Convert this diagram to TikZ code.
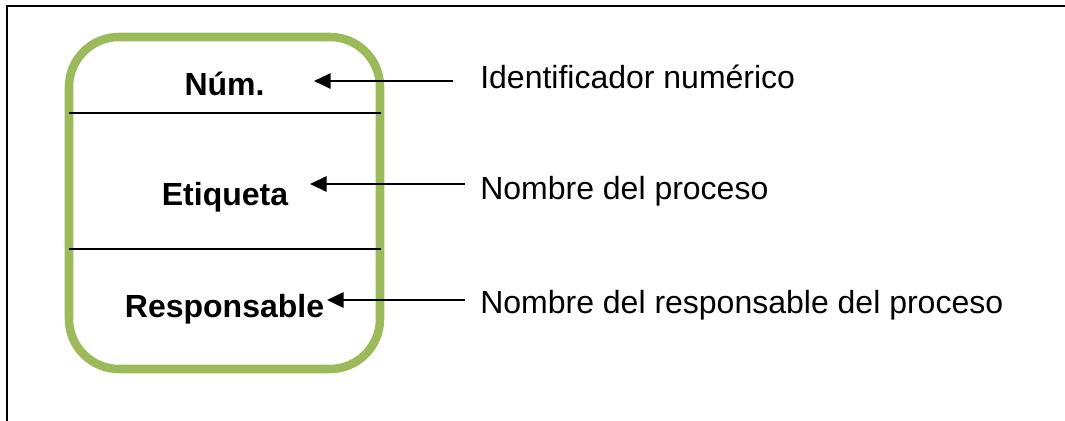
\documentclass[tikz,border=0pt]{standalone}
\usepackage{fontspec}
\setmainfont{Liberation Sans}
\usetikzlibrary{arrows.meta}
\definecolor{boxgreen}{HTML}{9BBB59}
\begin{document}
\begin{tikzpicture}[x=0.75pt,y=-0.75pt,
  frameline/.style={line width=1.6pt,black},
  procbox/.style={draw=boxgreen,line width=6.4pt,rounded corners=37.5pt,
    minimum width=311*0.75pt,minimum height=332*0.75pt,inner sep=0pt},
  divider/.style={line width=1.5pt,black},
  field/.style={font=\fontsize{24}{28}\selectfont\bfseries,inner sep=0pt,anchor=base},
  note/.style={font=\fontsize{24}{28}\selectfont,inner sep=0pt,anchor=base west},
  pointer/.style={line width=1.5pt,-{Triangle[length=12.5pt,width=11.5pt]}}]
  \useasboundingbox (0,0) rectangle (1065,421);
  % outer frame (left and top edges)
  \draw[frameline] (7,421) -- (7,6) -- (1065,6);
  % process box
  \node[procbox] (box) at (224.5,203) {};
  \draw[divider] (69,113) coordinate (d1l) -- (381,113) coordinate (d1r);
  \draw[divider] (69,249) coordinate (d2l) -- (381,249) coordinate (d2r);
  % field labels
  \node[field] (num) at (224.5,95) {Núm.};
  \node[field] (eti) at (225,205) {Etiqueta};
  \node[field] (resp) at (224.5,317) {Responsable};
  % descriptions
  \node[note] (dnum) at (480,88) {Identificador numérico};
  \node[note] (deti) at (480,199) {Nombre del proceso};
  \node[note] (dresp) at (480,313) {Nombre del responsable del proceso};
  % arrow ends
  \coordinate (a1s) at (453,81);  \coordinate (a1e) at (314,81);
  \coordinate (a2s) at (465,184); \coordinate (a2e) at (310,184);
  \coordinate (a3s) at (465,300); \coordinate (a3e) at (327,300);
  \draw[pointer] (a1s) -- (a1e);
  \draw[pointer] (a2s) -- (a2e);
  \draw[pointer] (a3s) -- (a3e);
\end{tikzpicture}
\end{document}
